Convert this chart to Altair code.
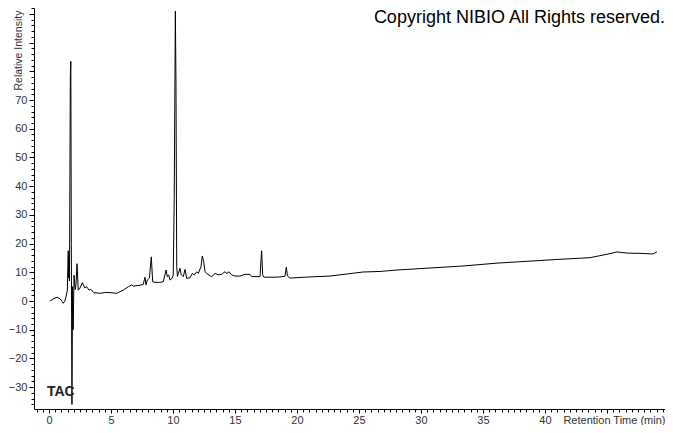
import altair as alt
import pandas as pd

# Retention time (min) and relative intensity
time_min = [
    0.08, 0.40, 0.67, 0.89, 1.07, 1.15, 1.27, 1.37, 1.48, 1.55, 1.58, 1.61, 1.65,
    1.72, 1.76, 1.80, 1.85, 1.90, 1.95, 2.02, 2.12, 2.18, 2.26, 2.36, 2.50, 2.69,
    2.88, 3.04, 3.23, 3.36, 3.63, 4.17, 4.57, 4.98, 5.46, 5.99, 6.40, 6.67, 6.80,
    7.34, 7.60, 7.74, 7.82, 7.93, 8.10, 8.25, 8.36, 8.55, 8.95, 9.22, 9.44, 9.54,
    9.65, 9.76, 9.92, 10.02, 10.10, 10.19, 10.24, 10.30, 10.36, 10.43, 10.56, 10.67,
    10.83, 10.97, 11.10, 11.37, 11.56, 11.72, 11.91, 12.04, 12.26, 12.36, 12.48,
    12.58, 12.72, 12.98, 13.12, 13.39, 13.65, 13.93, 14.19, 14.35, 14.52, 14.73,
    15.00, 15.40, 15.81, 16.21, 16.35, 17.02, 17.10, 17.15, 17.23, 17.34, 18.23,
    18.63, 19.03, 19.14, 19.23, 19.44, 20.24, 21.05, 22.66, 25.32, 26.69, 28.06,
    30.73, 33.39, 36.13, 38.79, 41.45, 43.63, 44.44, 45.24, 45.81, 46.61, 47.66,
    48.71, 49.03,
]
intensity = [
    0.0, 0.9, 1.3, 0.8, -0.2, -0.8, -0.1, 1.5, 3.8, 17.5, 8.0, 16.0, 7.0,
    78.0, 83.5, 20.0, -36.0, 5.0, -10.0, 9.0, 4.0, 6.0, 13.0, 3.8, 4.5, 6.4,
    4.6, 5.0, 3.8, 4.1, 2.9, 2.7, 3.0, 2.9, 2.7, 3.8, 5.0, 5.6, 5.2,
    5.5, 5.8, 8.3, 5.6, 7.3, 8.0, 15.4, 6.7, 6.5, 6.5, 6.7, 10.8, 8.5,
    9.1, 7.3, 7.9, 9.1, 36.0, 101.0, 76.0, 12.0, 8.5, 9.6, 11.4, 9.1,
    8.5, 11.0, 7.9, 8.1, 9.6, 9.1, 10.2, 9.6, 12.0, 15.7, 13.7,
    10.2, 9.6, 8.8, 8.5, 9.6, 9.1, 9.3, 10.2, 9.6, 10.2, 9.1,
    8.7, 8.7, 9.3, 9.3, 8.5, 8.5, 14.3, 17.5, 9.1, 8.3, 8.3,
    8.4, 8.6, 11.8, 8.7, 8.0, 8.2, 8.4, 8.7, 10.1, 10.3, 10.8,
    11.5, 12.2, 13.2, 13.9, 14.6, 15.1, 15.8, 16.5, 17.1, 16.7, 16.6,
    16.4, 17.1,
]

x_major = [0, 5, 10, 15, 20, 25, 30, 35, 40, 45]
x_minor = [v / 2 for v in range(-2, 100)]
y_major = [-30, -20, -10, 0, 10, 20, 30, 40, 50, 60, 70, 80, 90, 100]
y_minor = list(range(-36, 103, 2))

copyright_text = ["Copyright NIBIO All Rights reserved."]
trace_label = ["TAC"]

df = pd.DataFrame({"t": time_min, "I": intensity})

FONT = "Liberation Sans Narrow, Liberation Sans, Arial, sans-serif"
xs = alt.Scale(domain=[-1.21, 49.68], nice=False, zero=False)
ys = alt.Scale(domain=[-37.6, 102.05], nice=False, zero=False)

line = alt.Chart(df).mark_line(color="black", strokeWidth=1).encode(
    x=alt.X("t:Q", scale=xs, axis=alt.Axis(
        values=x_major, labelExpr="datum.value <= 40 ? datum.label : ''",
        tickSize=4, labelPadding=1, labelFontSize=11, orient="bottom",
        title="Retention Time (min)", titleX=631, titleY=11,
        titleAlign="right", titleBaseline="middle", titleAnchor="end",
        titleFontWeight="normal", titleFontSize=11, titleFont=FONT, titleColor="#333",
    )),
    y=alt.Y("I:Q", scale=ys, axis=alt.Axis(
        values=y_major, labelExpr="datum.value <= 70 ? datum.label : ''",
        tickSize=5, labelPadding=2, labelFontSize=11, orient="left",
        title="Relative Intensity", titleAngle=270, titleX=-16, titleY=82,
        titleAlign="left", titleBaseline="middle",
        titleFontWeight="normal", titleFontSize=10.5, titleFont=FONT, titleColor="#333",
    )),
)

minor = alt.Chart(df).mark_point(opacity=0).encode(
    x=alt.X("t:Q", scale=xs, axis=alt.Axis(
        values=x_minor, labels=False, tickSize=3, domain=False, title=None, orient="bottom")),
    y=alt.Y("I:Q", scale=ys, axis=alt.Axis(
        values=y_minor, labels=False, tickSize=3, domain=False, title=None, orient="left")),
)

copy_txt = alt.Chart(pd.DataFrame({"label": copyright_text})).mark_text(
    align="right", baseline="alphabetic", fontSize=18, font="Liberation Sans, Arial",
    color="black",
).encode(x=alt.value(631), y=alt.value(15), text="label:N")

tac_txt = alt.Chart(pd.DataFrame({"label": trace_label})).mark_text(
    align="left", baseline="middle", fontSize=14, fontWeight="bold",
    font="Liberation Sans, Arial", color="#222",
).encode(x=alt.value(13), y=alt.value(384), text="label:N")

chart = alt.layer(line, minor, copy_txt, tac_txt).resolve_axis(
    x="independent", y="independent"
).properties(
    width=631, height=401,
    autosize=alt.AutoSizeParams(type="none"),
    padding={"left": 26, "top": 0, "right": 0, "bottom": 16},
).configure_view(stroke=None).configure_axis(
    grid=False, domainColor="black", tickColor="black", labelColor="#333",
    labelFont=FONT,
)

chart.save("out.html", embed_options={"renderer": "svg", "actions": False})
